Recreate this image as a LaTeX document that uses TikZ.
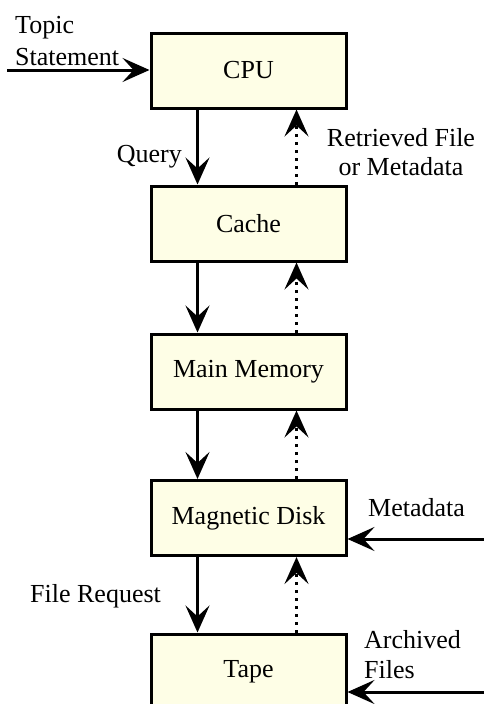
\documentclass[tikz,border=0pt]{standalone}
\usepackage{fontspec}
\setmainfont{Liberation Serif}
\usetikzlibrary{arrows.meta}
\definecolor{boxfill}{RGB}{254,254,230}
\tikzset{
  membox/.style={draw=black, line width=3pt, fill=boxfill, minimum width=195pt, minimum height=75pt, inner sep=0pt, font=\fontsize{26}{30}\selectfont},
  lbl/.style={inner sep=0pt, font=\fontsize{26}{30}\selectfont},
  tip/.style={-{Stealth[length=27pt,width=24pt,inset=11pt]}},
  solidarrow/.style={tip, line width=3pt},
  dotarrow/.style={tip, line width=3pt, dash pattern=on 3pt off 5pt},
}
\begin{document}
\begin{tikzpicture}[x=1pt,y=-1pt]
\useasboundingbox (0,0) rectangle (484,704);
\clip (0,0) rectangle (484,704);
\fill[white] (0,0) rectangle (484,704);
\node[membox] (cpu) at (248.5,70.5) {CPU};
\node[membox] (cache) at (248.5,223.5) {Cache};
\node[membox] (mem) at (248.5,371.5) {Main Memory};
\node[membox] (disk) at (248.5,518) {Magnetic Disk};
\node[membox] (tape) at (248.5,671.5) {Tape};
% labels
\node[lbl, anchor=base west] (topic) at (15,33) {Topic};
\node[lbl, anchor=base west] (stmt) at (15,65) {Statement};
\node[lbl, anchor=base east] (query) at (182,162) {Query};
\node[lbl, anchor=base] (retr) at (401,146) {Retrieved File};
\node[lbl, anchor=base] (ormeta) at (401,175) {or Metadata};
\node[lbl, anchor=base west] (meta) at (368,516) {Metadata};
\node[lbl, anchor=base west] (freq) at (30,602) {File Request};
\node[lbl, anchor=base west] (arch) at (364,648) {Archived};
\node[lbl, anchor=base west] (files) at (364,678) {Files};
% down arrows
\draw[solidarrow] ([xshift=48pt]cpu.south west) -- ([xshift=48pt]cache.north west);
\draw[solidarrow] ([xshift=48pt]cache.south west) -- ([xshift=48pt]mem.north west);
\draw[solidarrow] ([xshift=48pt]mem.south west) -- ([xshift=48pt]disk.north west);
\draw[solidarrow] ([xshift=48pt]disk.south west) -- ([xshift=48pt]tape.north west);
% up dotted arrows
\draw[dotarrow] ([xshift=147pt]cache.north west) -- ([xshift=147pt]cpu.south west);
\draw[dotarrow] ([xshift=147pt]mem.north west) -- ([xshift=147pt]cache.south west);
\draw[dotarrow] ([xshift=147pt]disk.north west) -- ([xshift=147pt]mem.south west);
\draw[dotarrow] ([xshift=147pt]tape.north west) -- ([xshift=147pt]disk.south west);
% side arrows
\coordinate (tsin) at (7,70);
\coordinate (mdin) at (486,539);
\coordinate (arin) at (486,692);
\draw[solidarrow] (tsin) -- (tsin -| cpu.west);
\draw[solidarrow] (mdin) -- (mdin -| disk.east);
\draw[solidarrow] (arin) -- (arin -| tape.east);
\end{tikzpicture}
\end{document}
